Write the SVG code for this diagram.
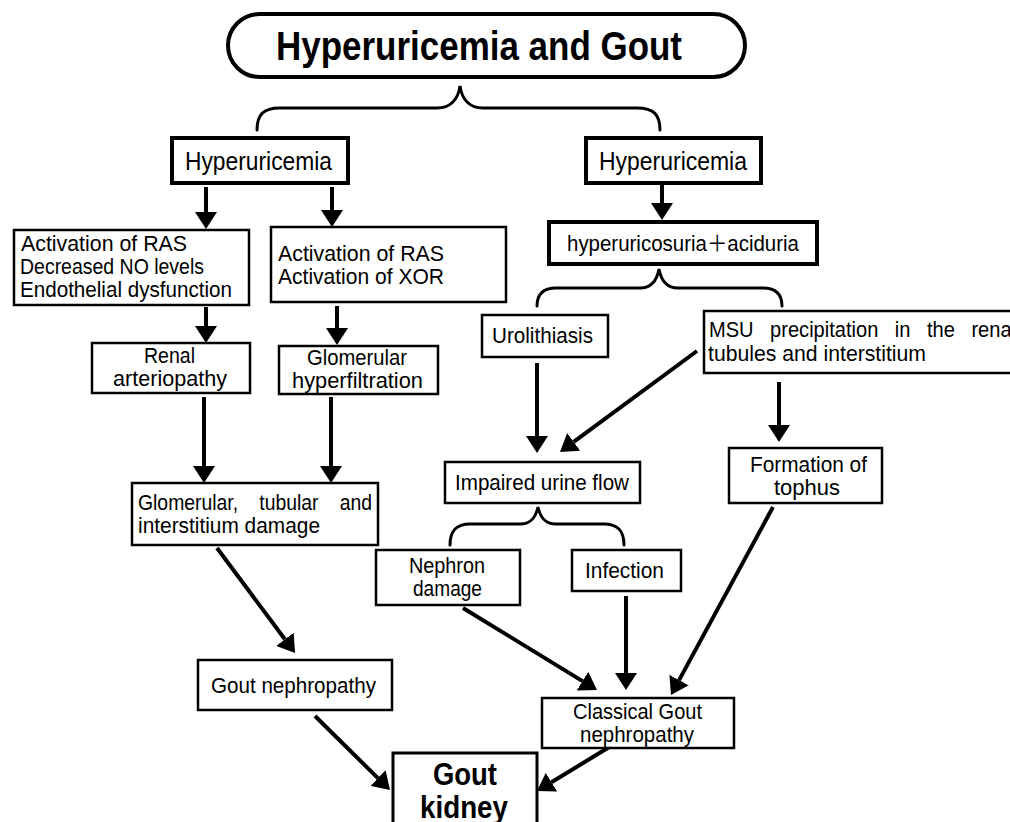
<svg xmlns="http://www.w3.org/2000/svg" width="1010" height="822" viewBox="0 0 1010 822">
<style>
.bx{fill:#fff;stroke:#000;stroke-width:2.5}
.bk{fill:#fff;stroke:#000;stroke-width:4}
.br{fill:none;stroke:#000;stroke-width:3;stroke-linecap:round}
.ar{stroke:#000;stroke-width:4;fill:none;marker-end:url(#ah)}
text{font-family:"Liberation Sans","Noto Sans CJK JP",sans-serif;font-size:22px;fill:#000}
.t{font-size:40px;font-weight:bold}
.h{font-size:25px}
.g{font-size:32px;font-weight:bold}
</style>
<defs>
<marker id="ah" markerUnits="userSpaceOnUse" markerWidth="17" markerHeight="22" viewBox="0 0 17 22" refX="0" refY="11" orient="auto">
<path d="M0,0 L17,11 L0,22 z" fill="#000"/>
</marker>
</defs>
<rect width="1010" height="822" fill="#fff"/>
<g id="connectors">
<path class="br" d="M257,130 C257,115 263,108 280,108 L437,108 C450,108 458,100 460,86 C462,100 470,108 483,108 L637,108 C654,108 660,115 660,130"/>
<path class="br" d="M537,306 C537,294 543,288 556,288 L640,288 C652,288 657,280 659,269 C661,280 666,288 678,288 L763,288 C776,288 782,294 782,306"/>
<path class="br" d="M450,545 C450,531 456,524 470,524 L520,524 C532,524 536,516 538,507 C540,516 544,524 556,524 L604,524 C618,524 624,531 624,545"/>
<line class="ar" x1="206" y1="187" x2="206" y2="212"/>
<line class="ar" x1="332" y1="187" x2="332" y2="210"/>
<line class="ar" x1="662" y1="183" x2="662" y2="203"/>
<line class="ar" x1="206" y1="307" x2="206" y2="326"/>
<line class="ar" x1="337" y1="306" x2="337" y2="328"/>
<line class="ar" x1="204" y1="397" x2="204" y2="466"/>
<line class="ar" x1="331" y1="397" x2="331" y2="466"/>
<line class="ar" x1="537" y1="363" x2="537" y2="436"/>
<line class="ar" x1="697" y1="351" x2="573.7" y2="441.9"/>
<line class="ar" x1="779" y1="382" x2="779" y2="425"/>
<line class="ar" x1="217" y1="548" x2="284.9" y2="639.3"/>
<line class="ar" x1="463" y1="608" x2="582.5" y2="681.1"/>
<line class="ar" x1="626" y1="596" x2="626" y2="673"/>
<line class="ar" x1="773" y1="507" x2="679.1" y2="680.1"/>
<line class="ar" x1="315" y1="716" x2="377.9" y2="778.1"/>
<line class="ar" x1="611" y1="746" x2="551.5" y2="782.2"/>
</g>
<g id="title">
<rect class="bk" x="228" y="14" width="517" height="63" rx="31.5"/>
<text class="t" x="276" y="60" textLength="406" lengthAdjust="spacingAndGlyphs">Hyperuricemia and Gout</text>
</g>
<g id="hyperuricemia-left">
<rect class="bk" x="172" y="138" width="176" height="45"/>
<text class="h" x="185" y="170" textLength="147" lengthAdjust="spacingAndGlyphs">Hyperuricemia</text>
</g>
<g id="hyperuricemia-right">
<rect class="bk" x="586" y="138" width="175" height="45"/>
<text class="h" x="599" y="170" textLength="148" lengthAdjust="spacingAndGlyphs">Hyperuricemia</text>
</g>
<g id="ras-no">
<rect class="bx" x="14" y="230" width="235" height="75"/>
<text x="21" y="251" textLength="166" lengthAdjust="spacingAndGlyphs">Activation of RAS</text>
<text x="20" y="274" textLength="184" lengthAdjust="spacingAndGlyphs">Decreased NO levels</text>
<text x="20" y="297" textLength="212" lengthAdjust="spacingAndGlyphs">Endothelial dysfunction</text>
</g>
<g id="ras-xor">
<rect class="bx" x="271" y="227" width="235" height="75"/>
<text x="278" y="261" textLength="166" lengthAdjust="spacingAndGlyphs">Activation of RAS</text>
<text x="278" y="284" textLength="166" lengthAdjust="spacingAndGlyphs">Activation of XOR</text>
</g>
<g id="hyperuricosuria">
<rect class="bk" x="549" y="222" width="268" height="42"/>
<text x="567" y="251" textLength="232" lengthAdjust="spacingAndGlyphs">hyperuricosuria＋aciduria</text>
</g>
<g id="urolithiasis">
<rect class="bx" x="482" y="315" width="126" height="42"/>
<text x="492" y="343" textLength="101" lengthAdjust="spacingAndGlyphs">Urolithiasis</text>
</g>
<g id="msu">
<rect class="bx" x="704" y="311" width="320" height="62"/>
<text x="709" y="337" style="word-spacing:12px" textLength="307" lengthAdjust="spacingAndGlyphs">MSU precipitation in the renal</text>
<text x="708" y="361" textLength="218" lengthAdjust="spacingAndGlyphs">tubules and interstitium</text>
</g>
<g id="renal">
<rect class="bx" x="92" y="343" width="158" height="50"/>
<text x="144" y="363" textLength="51" lengthAdjust="spacingAndGlyphs">Renal</text>
<text x="113" y="386" textLength="114" lengthAdjust="spacingAndGlyphs">arteriopathy</text>
</g>
<g id="hyperfiltration">
<rect class="bx" x="279" y="346" width="159" height="48"/>
<text x="307" y="365" textLength="100" lengthAdjust="spacingAndGlyphs">Glomerular</text>
<text x="292" y="388" textLength="131" lengthAdjust="spacingAndGlyphs">hyperfiltration</text>
</g>
<g id="glomerular-damage">
<rect class="bx" x="132" y="483" width="246" height="62"/>
<text x="138" y="510" style="word-spacing:18px" textLength="234" lengthAdjust="spacingAndGlyphs">Glomerular, tubular and</text>
<text x="138" y="533" textLength="182" lengthAdjust="spacingAndGlyphs">interstitium damage</text>
</g>
<g id="impaired">
<rect class="bx" x="445" y="462" width="195" height="41"/>
<text x="455" y="490" textLength="174" lengthAdjust="spacingAndGlyphs">Impaired urine flow</text>
</g>
<g id="tophus">
<rect class="bx" x="729" y="448" width="153" height="55"/>
<text x="750" y="472" textLength="117" lengthAdjust="spacingAndGlyphs">Formation of</text>
<text x="774" y="495" textLength="66" lengthAdjust="spacingAndGlyphs">tophus</text>
</g>
<g id="nephron">
<rect class="bx" x="376" y="550" width="144" height="55"/>
<text x="409" y="573" textLength="76" lengthAdjust="spacingAndGlyphs">Nephron</text>
<text x="413" y="596" textLength="69" lengthAdjust="spacingAndGlyphs">damage</text>
</g>
<g id="infection">
<rect class="bx" x="572" y="550" width="109" height="41"/>
<text x="585" y="578" textLength="79" lengthAdjust="spacingAndGlyphs">Infection</text>
</g>
<g id="gout-nephropathy">
<rect class="bx" x="198" y="660" width="194" height="50"/>
<text x="211" y="693" textLength="165" lengthAdjust="spacingAndGlyphs">Gout nephropathy</text>
</g>
<g id="classical">
<rect class="bx" x="542" y="698" width="192" height="50"/>
<text x="573" y="719" textLength="129" lengthAdjust="spacingAndGlyphs">Classical Gout</text>
<text x="580" y="742" textLength="114" lengthAdjust="spacingAndGlyphs">nephropathy</text>
</g>
<g id="gout-kidney">
<rect x="393" y="753" width="144" height="80" fill="#fff" stroke="#000" stroke-width="3"/>
<text class="g" x="433" y="785" textLength="64" lengthAdjust="spacingAndGlyphs">Gout</text>
<text class="g" x="420" y="818" textLength="88" lengthAdjust="spacingAndGlyphs">kidney</text>
</g>
</svg>
